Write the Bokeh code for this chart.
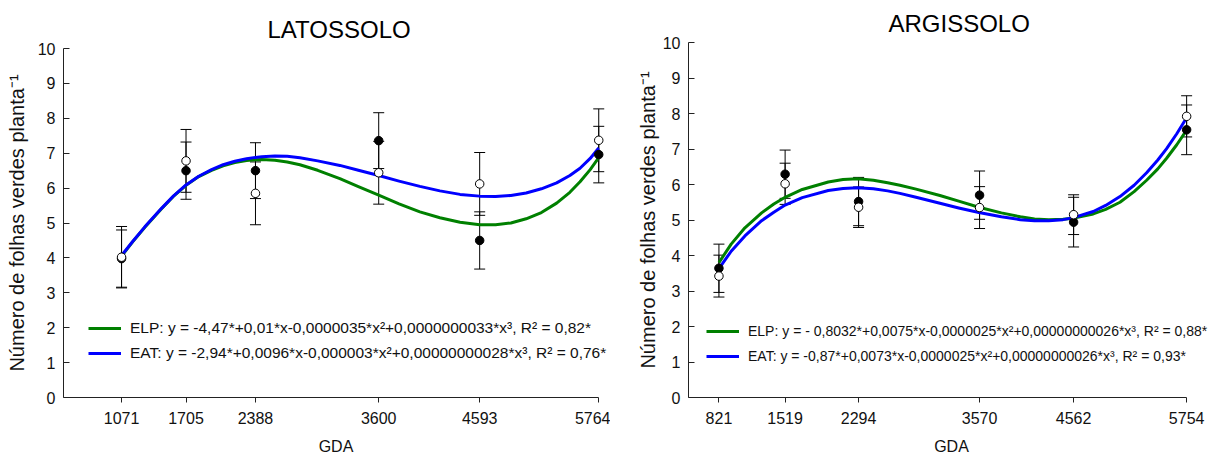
from bokeh.plotting import figure
from bokeh.models import (Range1d, FixedTicker, Whisker, TeeHead, ColumnDataSource,
                          Legend, LegendItem)
from bokeh.layouts import row
from bokeh.embed import file_html
from bokeh.resources import INLINE

FONT = "Liberation Sans"

# ---------------- LATOSSOLO ----------------
lat_gda = [1071, 1705, 2388, 3600, 4593, 5764]
lat_elp = [3.98, 6.50, 6.50, 7.36, 4.50, 6.96]
lat_elp_err = [0.82, 0.82, 0.80, 0.80, 0.82, 0.81]
lat_eat = [4.02, 6.78, 5.85, 6.44, 6.12, 7.37]
lat_eat_err = [0.88, 0.90, 0.90, 0.90, 0.90, 0.90]
# fitted curves
lat_curve_x = [1071, 1180, 1300, 1464, 1580, 1705, 1830, 1956, 2070, 2185, 2300,
               2388, 2450, 2579, 2700, 2825, 3000, 3218, 3400, 3600, 3800, 4005,
               4202, 4400, 4593, 4750, 4900, 5050, 5200, 5350, 5480, 5580, 5680, 5764]
lat_curve_elp = [4.05, 4.46, 4.88, 5.41, 5.76, 6.08, 6.33, 6.51, 6.64, 6.73, 6.79,
                 6.81, 6.82, 6.80, 6.75, 6.67, 6.51, 6.27, 6.04, 5.80, 5.55, 5.32,
                 5.15, 5.02, 4.95, 4.95, 5.00, 5.12, 5.30, 5.57, 5.88, 6.18, 6.53, 6.87]
lat_curve_eat = [4.07, 4.47, 4.89, 5.42, 5.77, 6.09, 6.34, 6.53, 6.67, 6.77, 6.84,
                 6.88, 6.90, 6.92, 6.91, 6.87, 6.78, 6.65, 6.51, 6.36, 6.20, 6.05,
                 5.92, 5.82, 5.77, 5.76, 5.79, 5.86, 5.98, 6.15, 6.36, 6.57, 6.85, 7.15]
lat_label_elp = "ELP: y = -4,47*+0,01*x-0,0000035*x\u00b2+0,0000000033*x\u00b3, R\u00b2 = 0,82*"
lat_label_eat = "EAT: y = -2,94*+0,0096*x-0,000003*x\u00b2+0,00000000028*x\u00b3, R\u00b2 = 0,76*"

# ---------------- ARGISSOLO ----------------
arg_gda = [821, 1519, 2294, 3570, 4562, 5754]
arg_elp = [3.64, 6.29, 5.52, 5.70, 4.94, 7.54]
arg_elp_err = [0.68, 0.68, 0.68, 0.68, 0.70, 0.70]
arg_eat = [3.42, 6.02, 5.36, 5.35, 5.15, 7.92]
arg_eat_err = [0.59, 0.58, 0.57, 0.59, 0.56, 0.58]
arg_curve_x = [821, 950, 1095, 1271, 1400, 1519, 1700, 1974, 2130, 2284, 2450, 2600,
               2730, 2900, 3152, 3350, 3563, 3800, 4000, 4150, 4300, 4450, 4552, 4769,
               4900, 5051, 5200, 5332, 5450, 5543, 5650, 5754]
arg_curve_elp = [3.80, 4.32, 4.78, 5.20, 5.45, 5.64, 5.86, 6.07, 6.14, 6.16, 6.12,
                 6.05, 5.98, 5.87, 5.69, 5.53, 5.36, 5.20, 5.09, 5.03, 5.01, 5.02,
                 5.05, 5.17, 5.30, 5.50, 5.80, 6.12, 6.44, 6.74, 7.12, 7.53]
arg_curve_eat = [3.63, 4.12, 4.55, 4.98, 5.22, 5.42, 5.63, 5.83, 5.89, 5.91, 5.88,
                 5.82, 5.75, 5.64, 5.47, 5.34, 5.21, 5.09, 5.01, 4.98, 4.98, 5.01,
                 5.06, 5.24, 5.41, 5.66, 5.98, 6.33, 6.69, 7.01, 7.43, 7.88]
arg_label_elp = "ELP: y = - 0,8032*+0,0075*x-0,0000025*x\u00b2+0,00000000026*x\u00b3, R\u00b2 = 0,88*"
arg_label_eat = "EAT: y = -0,87*+0,0073*x-0,0000025*x\u00b2+0,00000000026*x\u00b3, R\u00b2 = 0,93*"

Y_LABEL = "Número de folhas verdes planta\u207b\u00b9"


def panel(title, gda, elp, elp_err, eat, eat_err, cx, c_elp, c_eat, lab_elp, lab_eat,
          width, border_left, border_right, border_top, x_end, title_offset,
          title_standoff, ylabel_standoff, legend_loc, legend_font):
    p = figure(width=width, height=459, output_backend="svg", toolbar_location=None,
               x_range=Range1d(500, x_end), y_range=Range1d(0, 10),
               min_border_left=border_left, min_border_right=border_right,
               min_border_top=border_top, min_border_bottom=62)
    p.frame_align = False
    p.outline_line_color = None
    p.grid.visible = False
    p.background_fill_color = "white"
    p.border_fill_color = "white"

    p.title.text = title
    p.title.align = "left"
    p.title.text_font = FONT
    p.title.text_font_size = "24px"
    p.title.text_font_style = "normal"
    p.title.text_color = "black"
    p.title.offset = title_offset
    p.title.standoff = title_standoff

    xa = p.xaxis[0]
    xa.ticker = FixedTicker(ticks=gda)
    xa.bounds = (500, gda[-1])
    xa.major_tick_in = 0
    xa.major_tick_out = 5
    xa.minor_tick_line_color = None
    xa.major_label_standoff = 9
    xa.axis_label = "GDA"
    xa.axis_label_standoff = 11
    ya = p.yaxis[0]
    ya.ticker = FixedTicker(ticks=list(range(0, 11)))
    ya.bounds = (0, 10)
    ya.major_tick_in = 6
    ya.major_tick_out = 0
    ya.minor_tick_line_color = None
    ya.major_label_standoff = 8
    ya.axis_label = Y_LABEL
    ya.axis_label_standoff = ylabel_standoff
    for ax in (xa, ya):
        ax.axis_line_color = "#222222"
        ax.major_tick_line_color = "#222222"
        ax.major_label_text_font = FONT
        ax.major_label_text_font_size = "16px"
        ax.major_label_text_color = "#111111"
        ax.axis_label_text_font = FONT
        ax.axis_label_text_font_style = "normal"
        ax.axis_label_text_color = "#111111"
    xa.axis_label_text_font_size = "16px"
    ya.axis_label_text_font_size = "20px"

    src = ColumnDataSource(dict(
        x=gda, elp=elp, eat=eat,
        elp_lo=[v - e for v, e in zip(elp, elp_err)],
        elp_hi=[v + e for v, e in zip(elp, elp_err)],
        eat_lo=[v - e for v, e in zip(eat, eat_err)],
        eat_hi=[v + e for v, e in zip(eat, eat_err)],
    ))
    for lo, hi in (("eat_lo", "eat_hi"), ("elp_lo", "elp_hi")):
        w = Whisker(source=src, base="x", lower=lo, upper=hi, level="underlay",
                    line_color="black", line_width=1,
                    upper_head=TeeHead(size=11, line_color="black", line_width=1),
                    lower_head=TeeHead(size=11, line_color="black", line_width=1))
        p.add_layout(w)

    csrc = ColumnDataSource(dict(x=cx, elp=c_elp, eat=c_eat))
    g = p.line("x", "elp", source=csrc, line_color="#008000", line_width=3,
               line_join="round")
    b = p.line("x", "eat", source=csrc, line_color="#0000ff", line_width=3,
               line_join="round")

    p.scatter("x", "elp", source=src, size=8.5, fill_color="black", line_color="black")
    p.scatter("x", "eat", source=src, size=8.5, fill_color="white", line_color="black",
              line_width=1)

    leg = Legend(items=[LegendItem(label=lab_elp, renderers=[g]),
                        LegendItem(label=lab_eat, renderers=[b])],
                 location=legend_loc, orientation="vertical",
                 border_line_color=None, background_fill_alpha=0,
                 label_text_font=FONT, label_text_font_size=legend_font,
                 label_text_color="#111111",
                 glyph_width=33, glyph_height=22, label_height=22,
                 label_standoff=9, spacing=3, padding=0, margin=0)
    p.add_layout(leg, "center")
    return p


p1 = panel("LATOSSOLO", lat_gda, lat_elp, lat_elp_err, lat_eat, lat_eat_err,
           lat_curve_x, lat_curve_elp, lat_curve_eat, lat_label_elp, lat_label_eat,
           width=610, border_left=63, border_right=2, border_top=48, x_end=5860,
           title_offset=204, title_standoff=12, ylabel_standoff=7, legend_loc=(25, 33),
           legend_font="15.5px")
p2 = panel("ARGISSOLO", arg_gda, arg_elp, arg_elp_err, arg_eat, arg_eat_err,
           arg_curve_x, arg_curve_elp, arg_curve_eat, arg_label_elp, arg_label_eat,
           width=604, border_left=78, border_right=0, border_top=42, x_end=6048,
           title_offset=200, title_standoff=12, ylabel_standoff=1, legend_loc=(18, 30),
           legend_font="14px")

layout = row(p1, p2, spacing=0)
open("out.html", "w").write(file_html(layout, INLINE))
